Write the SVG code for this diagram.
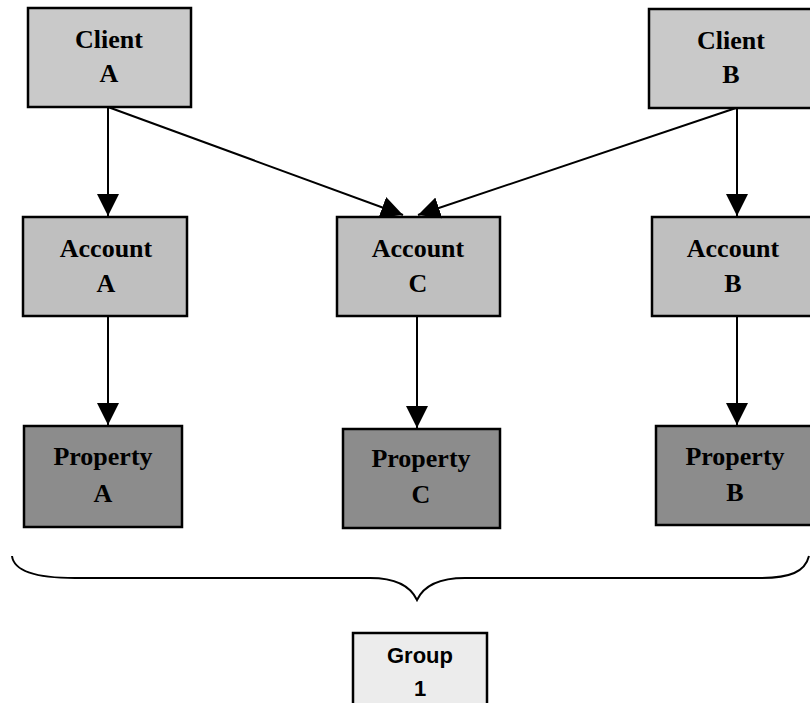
<svg xmlns="http://www.w3.org/2000/svg" width="810" height="703" viewBox="0 0 810 703">
<defs>
<marker id="ah" markerUnits="userSpaceOnUse" markerWidth="22" markerHeight="22" viewBox="0 0 22 22" refX="22" refY="11" orient="auto">
<path d="M0,0 L22,11 L0,22 Z" fill="#000"/>
</marker>
</defs>
<style>
.box{stroke:#000;stroke-width:2.5}
.client{fill:#c9c9c9}
.account{fill:#bfbfbf}
.property{fill:#8c8c8c}
.group{fill:#ececec}
.lbl{font-family:"Liberation Serif","Times New Roman",serif;font-weight:bold;font-size:26px;text-anchor:middle;fill:#000}
.glbl{font-family:"Liberation Sans",Arial,sans-serif;font-weight:bold;font-size:22px;text-anchor:middle;fill:#000}
.conn{stroke:#000;stroke-width:2;fill:none}
</style>
<rect width="810" height="703" fill="#fff"/>
<g id="clientA"><rect class="box client" x="28" y="8" width="163" height="99"/><text class="lbl" x="109" y="48">Client</text><text class="lbl" x="109" y="82">A</text></g>
<g id="clientB"><rect class="box client" x="649" y="9" width="163" height="99"/><text class="lbl" x="731" y="49">Client</text><text class="lbl" x="731" y="83">B</text></g>
<g id="accountA"><rect class="box account" x="23" y="217" width="164" height="99"/><text class="lbl" x="106" y="257">Account</text><text class="lbl" x="106" y="292">A</text></g>
<g id="accountC"><rect class="box account" x="337" y="217" width="163" height="99"/><text class="lbl" x="418" y="257">Account</text><text class="lbl" x="418" y="292">C</text></g>
<g id="accountB"><rect class="box account" x="652" y="217" width="163" height="99"/><text class="lbl" x="733" y="257">Account</text><text class="lbl" x="733" y="292">B</text></g>
<g id="propertyA"><rect class="box property" x="24" y="426" width="158" height="101"/><text class="lbl" x="103" y="465">Property</text><text class="lbl" x="103" y="502">A</text></g>
<g id="propertyC"><rect class="box property" x="343" y="429" width="157" height="99"/><text class="lbl" x="421" y="467">Property</text><text class="lbl" x="421" y="503">C</text></g>
<g id="propertyB"><rect class="box property" x="656" y="426" width="158" height="99"/><text class="lbl" x="735" y="465">Property</text><text class="lbl" x="735" y="501">B</text></g>
<g id="group1"><rect class="box group" x="353" y="633" width="134" height="72"/><text class="glbl" x="420" y="663">Group</text><text class="glbl" x="420" y="696">1</text></g>
<g id="connectors">
<line class="conn" x1="108" y1="107" x2="108" y2="216" marker-end="url(#ah)"/>
<line class="conn" x1="108" y1="107" x2="403" y2="215" marker-end="url(#ah)"/>
<line class="conn" x1="736" y1="108" x2="418" y2="215" marker-end="url(#ah)"/>
<line class="conn" x1="737" y1="108" x2="737" y2="216" marker-end="url(#ah)"/>
<line class="conn" x1="108" y1="316" x2="108" y2="425" marker-end="url(#ah)"/>
<line class="conn" x1="417" y1="316" x2="417" y2="428" marker-end="url(#ah)"/>
<line class="conn" x1="737" y1="316" x2="737" y2="425" marker-end="url(#ah)"/>
<path class="conn" stroke-width="2.5" d="M12,556 C14,572 40,578 75,578 L370,578 C395,578 410,585 417,600 C424,585 440,578 465,578 L760,578 C790,578 805,572 809,556"/>
</g>
</svg>
